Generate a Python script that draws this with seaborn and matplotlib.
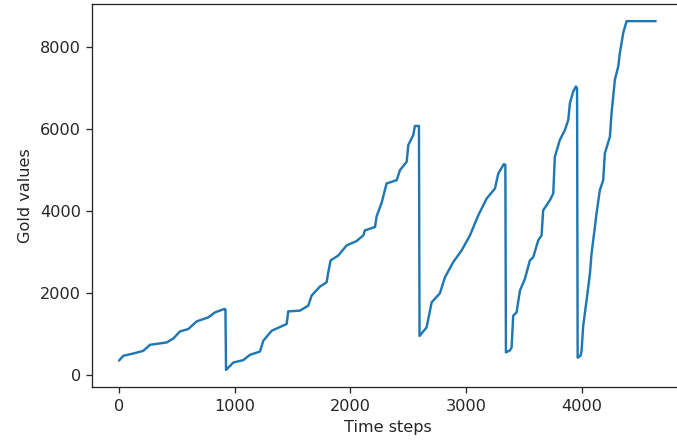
"""
Gold values over time steps - line chart recreated with seaborn
"""

import matplotlib
matplotlib.use("Agg")
import matplotlib.pyplot as plt
import seaborn as sns

# Time steps (one entry per visible bend)
time_steps = [
    0, 37, 120, 210, 268, 412, 470, 527, 599, 671, 772, 830, 910, 920,
    925, 988, 1074, 1132, 1219, 1247, 1320, 1449, 1463, 1564, 1636, 1665,
    1737, 1795, 1809, 1829, 1896, 1968, 2054, 2112, 2126, 2213, 2227, 2270,
    2313, 2400, 2429, 2487, 2501, 2544, 2558, 2593,
    2598, 2659, 2703, 2774, 2818, 2889, 2962, 3034, 3106, 3178, 3250, 3279,
    3327, 3340,
    3345, 3380, 3394, 3408, 3437, 3466, 3509, 3552, 3581, 3624, 3653, 3667,
    3725, 3754, 3768, 3811, 3855, 3884, 3898, 3927, 3950, 3960,
    3965, 3990, 3999, 4013, 4042, 4071, 4085, 4114, 4128, 4157, 4186, 4200,
    4244, 4258, 4287, 4316, 4330, 4359, 4388, 4640,
]

# Gold values at those steps
gold_values = [
    350, 466, 520, 588, 735, 792, 890, 1062, 1120, 1307, 1405, 1527, 1610, 1600,
    120, 302, 360, 490, 571, 833, 1079, 1243, 1552, 1569, 1692, 1937,
    2157, 2263, 2508, 2795, 2917, 3163, 3269, 3408, 3530, 3612, 3874, 4200,
    4675, 4756, 5001, 5205, 5614, 5859, 6080, 6080,
    950, 1160, 1773, 1993, 2386, 2753, 3040, 3408, 3898, 4307, 4552, 4920,
    5148, 5130,
    550, 600, 670, 1446, 1527, 2059, 2345, 2795, 2876, 3285, 3408, 4021,
    4266, 4430, 5327, 5737, 5982, 6227, 6636, 6921, 7044, 7000,
    420, 470, 588, 1201, 1814, 2468, 2958, 3612, 3939, 4511, 4756, 5410,
    5818, 6391, 7208, 7534, 7861, 8351, 8640, 8640,
]

sns.set_style("ticks")
plt.rcParams['font.family'] = ['DejaVu Sans']

DPI = 116
fig = plt.figure(figsize=(677 / DPI, 447 / DPI), dpi=DPI)
# The reference is a screenshot cropped just past the right spine
ax = fig.add_axes([0.1362, 0.1333, 0.872, 0.8584])

sns.lineplot(x=time_steps, y=gold_values, ax=ax,
             estimator=None, sort=False, color='#1f77b4', linewidth=1.5)

ax.set_xticks([0, 1000, 2000, 3000, 4000])
ax.set_yticks([0, 2000, 4000, 6000, 8000])
ax.set_xlabel('Time steps')
ax.set_ylabel('Gold values')

plt.savefig('out.png', dpi=DPI)
